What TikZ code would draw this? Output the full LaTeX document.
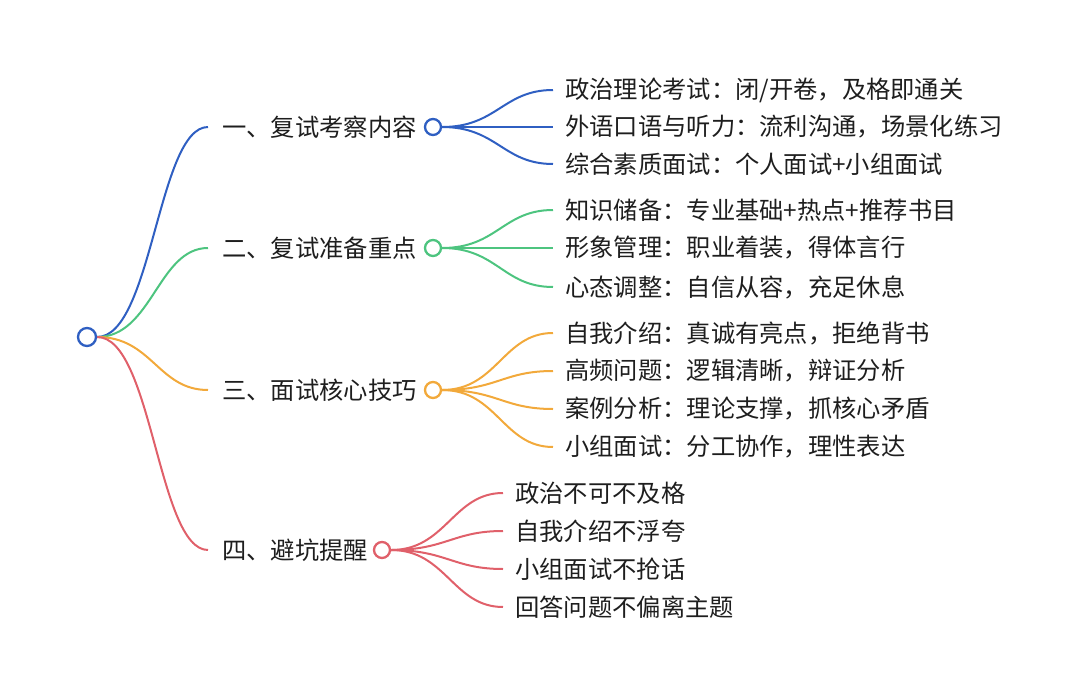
\documentclass[tikz,border=0pt]{standalone}
\usepackage{fontspec}
\setmainfont{Noto Sans CJK SC}
\usetikzlibrary{backgrounds}
\definecolor{cblue}{HTML}{2F5FC2}
\definecolor{cgreen}{HTML}{4DC47F}
\definecolor{corange}{HTML}{F2A93B}
\definecolor{cred}{HTML}{E0606A}
\definecolor{txt}{HTML}{1E1E1E}
\begin{document}
\begin{tikzpicture}[x=1pt,y=-1pt,
  fnt/.style={font=\fontsize{24.3}{28}\selectfont,text=txt},
  lbl/.style={fnt,anchor=west,inner xsep=14pt,inner ysep=0pt},
  leaf/.style={fnt,anchor=west,inner xsep=12pt,inner ysep=0pt},
  dot/.style={circle,draw,line width=2.3pt,minimum size=16pt,inner sep=0pt,fill=white},
  link/.style={line width=2pt},
  conn/.style={link,#1},
]
\useasboundingbox (0,0) rectangle (1080,696);
\node[dot,draw=cblue,minimum size=18pt] (root) at (87,337) {};
% branch labels
\node[lbl] (b1) at (208,127) {一、复试考察内容};
\node[lbl] (b2) at (208,248) {二、复试准备重点};
\node[lbl] (b3) at (208,390) {三、面试核心技巧};
\node[lbl] (b4) at (208,550) {四、避坑提醒};
% branch circles
\node[dot,draw=cblue] (c1) at (433,127) {};
\node[dot,draw=cgreen] (c2) at (433,248) {};
\node[dot,draw=corange] (c3) at (433,390) {};
\node[dot,draw=cred] (c4) at (382,550) {};
% leaves
\node[leaf] (l11) at (553,90) {政治理论考试：闭/开卷，及格即通关};
\node[leaf] (l12) at (553,127) {外语口语与听力：流利沟通，场景化练习};
\node[leaf] (l13) at (553,164) {综合素质面试：个人面试+小组面试};
\node[leaf] (l21) at (553,210) {知识储备：专业基础+热点+推荐书目};
\node[leaf] (l22) at (553,248) {形象管理：职业着装，得体言行};
\node[leaf] (l23) at (553,287) {心态调整：自信从容，充足休息};
\node[leaf] (l31) at (553,333) {自我介绍：真诚有亮点，拒绝背书};
\node[leaf] (l32) at (553,371) {高频问题：逻辑清晰，辩证分析};
\node[leaf] (l33) at (553,409) {案例分析：理论支撑，抓核心矛盾};
\node[leaf] (l34) at (553,447) {小组面试：分工协作，理性表达};
\node[leaf] (l41) at (503,493) {政治不可不及格};
\node[leaf] (l42) at (503,531) {自我介绍不浮夸};
\node[leaf] (l43) at (503,569) {小组面试不抢话};
\node[leaf] (l44) at (503,607) {回答问题不偏离主题};
\begin{pgfonlayer}{background}
\draw[conn=cblue]   (root.east) .. controls +(55,0) and +(-50,0) .. (b1.west);
\draw[conn=cgreen]  (root.east) .. controls +(55,0) and +(-50,0) .. (b2.west);
\draw[conn=corange] (root.east) .. controls +(55,0) and +(-50,0) .. (b3.west);
\draw[conn=cred]    (root.east) .. controls +(55,0) and +(-50,0) .. (b4.west);
\foreach \l in {l11,l12,l13}
  \draw[conn=cblue] (c1.east) .. controls +(55,0) and +(-50,0) .. (\l.west);
\foreach \l in {l21,l22,l23}
  \draw[conn=cgreen] (c2.east) .. controls +(55,0) and +(-50,0) .. (\l.west);
\foreach \l in {l31,l32,l33,l34}
  \draw[conn=corange] (c3.east) .. controls +(55,0) and +(-50,0) .. (\l.west);
\foreach \l in {l41,l42,l43,l44}
  \draw[conn=cred] (c4.east) .. controls +(55,0) and +(-50,0) .. (\l.west);
\end{pgfonlayer}
\end{tikzpicture}
\end{document}
